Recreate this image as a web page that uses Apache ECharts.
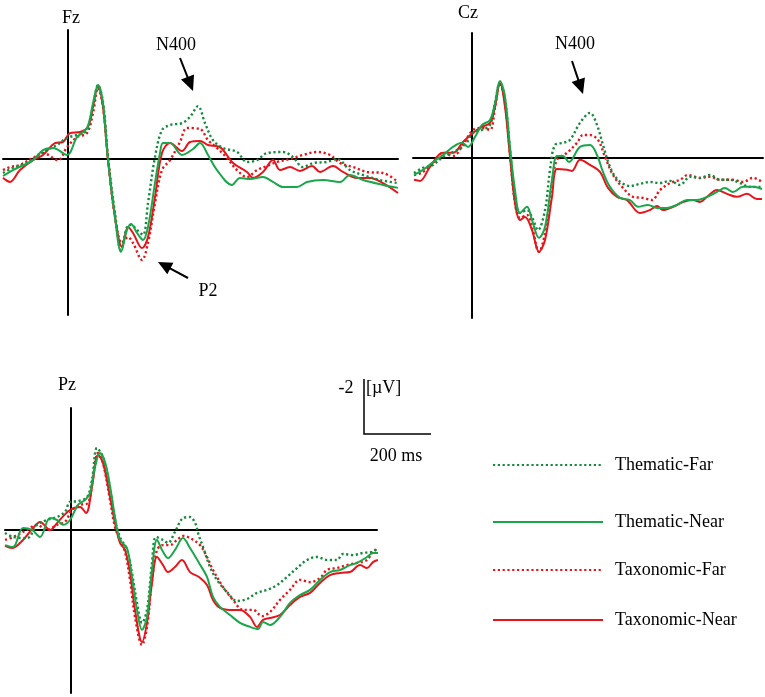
<!DOCTYPE html>
<html>
<head>
<meta charset="utf-8">
<script src="https://cdn.jsdelivr.net/npm/echarts@6/dist/echarts.min.js"></script>
<style>html,body{margin:0;padding:0;background:#fff}#c{width:765px;height:697px}</style>
</head>
<body>
<div id="c"></div>
<script>
// ---- data: [time in ms, amplitude in µV] (negative plotted upward) ----
const conditions = ['Thematic-Far', 'Thematic-Near', 'Taxonomic-Far', 'Taxonomic-Near'];
const panels = ['Fz', 'Cz', 'Pz'];

const fzThematicFar = [[-195,0.52],[-165,0.33],[-123,0.15],[-93,-0.11],[-63,-0.33],[-33,-0.52],[-3,-0.78],[27,-0.89],[57,-1.07],[75,-1.93],[90,-2.74],[105,-2.11],[120,-0.07],[141,2.0],[159,3.37],[177,2.52],[189,2.44],[207,2.63],[225,2.81],[240,1.63],[261,-0.07],[282,-1.07],[306,-1.26],[342,-1.33],[366,-1.56],[390,-1.96],[411,-1.33],[435,-0.70],[465,-0.41],[507,-0.26],[537,0.11],[567,0.04],[597,-0.22],[645,-0.26],[675,-0.07],[705,0.30],[735,0.15],[777,0.11],[807,0],[846,0.41],[885,0.59],[936,0.78],[990,0.89]];
const fzThematicNear = [[-195,0.63],[-165,0.41],[-105,0.04],[-75,-0.33],[-45,-0.41],[-3,-0.15],[27,-0.81],[57,-1.15],[75,-2.07],[90,-2.74],[105,-2.07],[120,0.04],[141,2.15],[159,3.44],[177,2.63],[189,2.41],[207,2.74],[225,3.0],[240,2.52],[261,0.89],[276,-0.22],[285,-0.59],[306,-0.59],[342,-0.15],[375,-0.37],[396,-0.59],[420,-0.15],[447,0.41],[492,0.96],[516,0.70],[546,0.74],[585,0.67],[615,0.85],[645,1.04],[687,1.04],[717,0.85],[765,0.78],[816,0.85],[846,0.59],[885,0.78],[945,0.96],[990,1.07]];
const fzTaxonomicFar = [[-195,0.41],[-174,0.30],[-144,0.22],[-105,-0.04],[-75,-0.22],[-30,0.04],[-3,-0.44],[27,-0.81],[57,-0.96],[75,-1.70],[90,-2.63],[105,-1.93],[120,-0.04],[141,2.15],[162,3.11],[180,2.89],[195,3.11],[222,3.74],[240,3.11],[261,1.63],[282,0.41],[306,0.04],[336,-0.63],[357,-1.15],[396,-1.11],[420,-0.70],[447,-0.41],[477,-0.04],[507,0.41],[537,0.67],[567,0.41],[597,0.26],[627,0.11],[666,0],[705,-0.15],[747,-0.26],[786,-0.15],[816,0.15],[855,0.30],[897,0.48],[945,0.52],[990,0.85]];
const fzTaxonomicNear = [[-195,0.70],[-174,0.85],[-144,0.41],[-105,0.04],[-75,-0.15],[-39,-0.59],[-15,-0.63],[6,-0.96],[36,-1.0],[60,-1.19],[75,-1.93],[90,-2.70],[105,-1.93],[120,0.04],[141,2.15],[162,3.26],[180,2.52],[195,2.74],[222,3.30],[240,2.89],[261,1.41],[282,-0.22],[306,-0.59],[342,-0.30],[366,-0.63],[396,-0.67],[420,-0.52],[456,-0.44],[495,0.15],[537,0.48],[555,0.70],[585,0.48],[615,0.04],[636,0.41],[666,0.30],[696,0.44],[732,0.26],[756,0.48],[795,0.26],[825,0.48],[867,0.70],[906,0.70],[945,0.89],[990,1.26]];

const czThematicFar = [[-174,0.56],[-147,0.37],[-117,0.26],[-87,-0.04],[-57,-0.22],[-21,-0.48],[3,-0.93],[30,-1.04],[54,-1.22],[69,-2.04],[84,-2.81],[99,-2.15],[114,-0.30],[129,1.44],[144,2.04],[165,1.93],[180,2.19],[198,2.67],[219,1.93],[234,0.44],[249,-0.48],[273,-0.56],[294,-0.67],[324,-1.30],[354,-1.67],[375,-1.22],[393,-0.48],[414,0.33],[438,0.81],[474,1.04],[504,0.96],[534,0.89],[564,0.93],[594,0.85],[624,1.0],[654,0.70],[684,0.74],[714,0.63],[744,0.81],[774,0.81],[804,0.93],[834,1.07],[870,1.07]];
const czThematicNear = [[-174,0.63],[-147,0.44],[-117,0.15],[-87,-0.11],[-57,-0.41],[-30,-0.56],[-12,-0.41],[9,-0.78],[30,-1.22],[54,-1.41],[69,-2.04],[84,-2.85],[99,-2.26],[114,-0.41],[129,1.19],[144,2.04],[165,1.81],[180,2.30],[201,2.96],[219,2.56],[240,0.81],[255,-0.07],[273,-0.07],[291,0.15],[324,-0.41],[354,-0.48],[375,-0.11],[393,0.52],[414,1.07],[444,1.48],[474,1.56],[498,1.81],[528,1.74],[555,1.85],[585,1.85],[615,1.74],[645,1.56],[675,1.56],[705,1.44],[735,1.26],[759,1.11],[783,1.26],[813,1.07],[843,1.07],[870,1.15]];
const czTaxonomicFar = [[-174,0.63],[-147,0.52],[-117,0.19],[-87,-0.19],[-57,-0.07],[-27,-0.48],[3,-1.04],[30,-1.11],[54,-1.04],[69,-1.89],[84,-2.78],[99,-2.04],[114,-0.19],[129,1.67],[144,2.22],[165,2.11],[180,2.56],[201,3.48],[219,2.78],[240,0.93],[255,0.07],[285,-0.19],[315,-0.56],[333,-0.85],[354,-0.85],[378,-0.67],[399,-0.04],[423,0.63],[453,1.11],[483,1.44],[513,1.48],[540,1.56],[564,1.19],[594,0.93],[624,0.81],[648,0.63],[684,0.74],[714,0.70],[744,0.81],[783,0.81],[813,0.89],[843,0.74],[870,0.89]];
const czTaxonomicNear = [[-174,0.81],[-156,0.85],[-126,0.33],[-87,-0.19],[-57,-0.19],[-27,-0.59],[3,-0.93],[30,-1.15],[54,-1.30],[69,-1.89],[84,-2.78],[99,-1.89],[114,-0.04],[129,1.67],[144,2.30],[159,2.19],[180,2.67],[201,3.48],[219,3.04],[240,1.44],[255,0.41],[285,0.44],[300,0.48],[324,0.07],[354,0.26],[384,0.52],[408,1.11],[435,1.44],[465,1.56],[504,2.04],[534,1.93],[555,1.78],[573,1.93],[603,1.81],[633,1.63],[663,1.56],[684,1.63],[705,1.44],[735,1.19],[765,1.33],[795,1.44],[825,1.33],[855,1.52],[870,1.52]];

const pzThematicFar = [[-198,0.11],[-174,0.26],[-132,0.30],[-102,-0.19],[-72,-0.37],[-42,-0.48],[-18,-0.67],[-3,-1.04],[21,-1.07],[48,-1.22],[63,-1.85],[78,-3.04],[96,-2.70],[117,-1.56],[132,-0.37],[147,0.26],[168,0.74],[183,1.59],[198,2.70],[213,3.44],[228,2.96],[243,1.22],[255,0.26],[276,0.37],[291,0.48],[312,0.07],[336,-0.44],[357,-0.48],[375,-0.19],[381,0.11],[396,0.63],[417,1.37],[438,1.85],[468,2.30],[498,2.63],[528,2.56],[558,2.33],[588,2.22],[618,2.04],[648,1.74],[678,1.41],[708,1.11],[738,1.0],[768,1.11],[798,1.11],[816,0.89],[846,0.93],[876,0.85],[903,0.81],[921,0.67]];
const pzThematicNear = [[-198,0.56],[-174,0.63],[-144,-0.07],[-117,0],[-93,0.26],[-63,-0.44],[-42,-0.37],[-24,-0.19],[-3,-0.37],[21,-0.93],[42,-1.11],[57,-1.37],[72,-2.33],[87,-2.85],[102,-2.52],[117,-1.63],[132,-0.48],[147,0.37],[168,0.67],[183,1.74],[198,2.96],[213,3.70],[228,3.22],[243,1.48],[258,0.37],[276,0.81],[291,1.04],[312,0.74],[336,0.30],[357,0.67],[384,1.22],[408,1.74],[426,2.48],[447,2.85],[477,3.15],[507,3.44],[537,3.59],[561,3.67],[576,3.41],[597,3.52],[627,3.22],[657,2.70],[687,2.41],[717,2.22],[747,1.85],[777,1.56],[807,1.48],[837,1.30],[858,1.22],[888,1.0],[906,0.85],[921,0.85]];
const pzTaxonomicFar = [[-198,0.37],[-174,0.26],[-132,0],[-102,-0.19],[-72,0],[-42,-0.19],[-18,-0.30],[3,-0.74],[27,-0.93],[51,-1.0],[66,-1.96],[81,-2.85],[96,-2.48],[117,-1.11],[132,-0.11],[147,0.37],[162,0.81],[177,1.85],[192,3.22],[213,4.26],[228,3.59],[243,1.85],[258,0.74],[276,0.56],[297,0.56],[318,0.37],[336,0.22],[357,0.30],[387,0.56],[408,1.0],[426,1.48],[456,2.11],[486,2.59],[516,2.96],[546,2.96],[573,3.19],[597,3.04],[627,2.59],[657,2.22],[687,1.85],[717,1.93],[747,1.78],[768,1.48],[798,1.41],[828,1.30],[858,1.22],[888,1.11],[912,0.74],[921,0.81]];
const pzTaxonomicNear = [[-198,0.59],[-177,0.67],[-144,0.37],[-114,-0.07],[-93,-0.30],[-63,0],[-39,-0.30],[-3,-0.74],[27,-0.85],[45,-0.63],[63,-1.59],[81,-2.78],[96,-2.48],[117,-1.22],[132,-0.26],[147,0.48],[162,0.74],[177,1.59],[192,2.96],[213,4.15],[228,3.44],[243,1.96],[258,1.0],[276,1.30],[291,1.56],[312,1.37],[333,1.11],[357,1.56],[384,1.74],[408,2.04],[426,2.59],[447,2.89],[477,2.96],[507,2.96],[537,3.22],[558,3.59],[576,3.33],[597,3.26],[627,3.15],[657,2.78],[687,2.48],[717,2.33],[747,1.96],[777,1.67],[807,1.59],[837,1.56],[867,1.30],[888,1.41],[906,1.19],[921,1.11]];

const panelData = [
  [fzThematicFar, fzThematicNear, fzTaxonomicFar, fzTaxonomicNear],
  [czThematicFar, czThematicNear, czTaxonomicFar, czTaxonomicNear],
  [pzThematicFar, pzThematicNear, pzTaxonomicFar, pzTaxonomicNear]
];
const timeRanges = [[-195, 990], [-177, 873], [-198, 918]];
const ampRanges = [[-4.78, 5.78], [-4.63, 5.93], [-4.52, 6.04]];
const scaleBarLabels = ['-2', '[µV]', '200 ms'];
const componentLabels = ['N400', 'P2', 'N400'];

// ---- layout & style ----
const grids = [
  {left: 3, top: 30, width: 395, height: 285},
  {left: 413, top: 33, width: 350, height: 285},
  {left: 5, top: 408, width: 372, height: 285}
];
const styles = [
  {color: '#138a3c', type: [2.2, 2.6], width: 2.4},
  {color: '#1aa64b', type: 'solid', width: 2},
  {color: '#e8141b', type: [2.2, 2.6], width: 2.4},
  {color: '#e8141b', type: 'solid', width: 2}
];
const drawOrder = [2, 3, 0, 1];
const legendY = [463, 520, 568, 618];
const serif = '"Liberation Serif", "Times New Roman", serif';

const axisLine = {onZero: true, lineStyle: {color: '#000', width: 2}};
const hidden = {axisTick: {show: false}, axisLabel: {show: false}, splitLine: {show: false}};

const xAxis = grids.map((g, i) => Object.assign({
  type: 'value', gridIndex: i, min: timeRanges[i][0], max: timeRanges[i][1], axisLine
}, hidden));
const yAxis = grids.map((g, i) => Object.assign({
  type: 'value', gridIndex: i, inverse: true, min: ampRanges[i][0], max: ampRanges[i][1], axisLine
}, hidden));

const series = [];
panelData.forEach((arrs, p) => {
  drawOrder.forEach(c => {
    series.push({
      type: 'line', name: conditions[c], xAxisIndex: p, yAxisIndex: p,
      data: arrs[c], symbol: 'none', smooth: 0.35, animation: false,
      lineStyle: styles[c], itemStyle: {color: styles[c].color}
    });
  });
});

const legend = conditions.map((n, i) => ({
  data: [n], left: 492, top: legendY[i] - 7, padding: 0, itemWidth: 110, itemHeight: 14,
  selectedMode: false,
  itemStyle: {color: 'transparent', borderWidth: 0, opacity: 0},
  textStyle: {fontFamily: serif, fontSize: 18, color: '#000', padding: [0, 0, 0, 7]}
}));

function text(t, x, y, align) {
  return {type: 'text', z: 100, style: {text: t, x, y, fill: '#000', font: '18px ' + serif,
    textAlign: align || 'center', textVerticalAlign: 'middle'}};
}
function arrow(x1, y1, tx, ty, len, hw) {
  const dx = tx - x1, dy = ty - y1, L = Math.hypot(dx, dy);
  const ux = dx / L, uy = dy / L, bx = tx - ux * len, by = ty - uy * len;
  return [
    {type: 'line', z: 100, shape: {x1, y1, x2: bx + ux * 2, y2: by + uy * 2}, style: {stroke: '#000', lineWidth: 2}},
    {type: 'polygon', z: 100, shape: {points: [[tx, ty], [bx - uy * hw, by + ux * hw], [bx + uy * hw, by - ux * hw]]}, style: {fill: '#000'}}
  ];
}

const graphic = [
  text(panels[0], 71, 18), text(panels[1], 468, 13), text(panels[2], 67, 385),
  text(componentLabels[0], 176, 45), text(componentLabels[1], 208, 291), text(componentLabels[2], 575, 44),
  ...arrow(180, 58, 193, 91, 15, 7),
  ...arrow(572, 61, 583, 94, 15, 7),
  ...arrow(188, 278, 158, 262, 14, 6.5),
  {type: 'polyline', z: 100, shape: {points: [[364, 379], [364, 434], [431, 434]]}, style: {stroke: '#000', lineWidth: 1.5, fill: null}},
  text(scaleBarLabels[0], 346, 388), text(scaleBarLabels[1], 366, 388, 'left'), text(scaleBarLabels[2], 396, 456)
];

const chart = echarts.init(document.getElementById('c'), null, {renderer: 'canvas'});
chart.setOption({
  backgroundColor: '#fff', animation: false,
  grid: grids, xAxis, yAxis, series, legend, graphic
});
</script>
</body>
</html>
